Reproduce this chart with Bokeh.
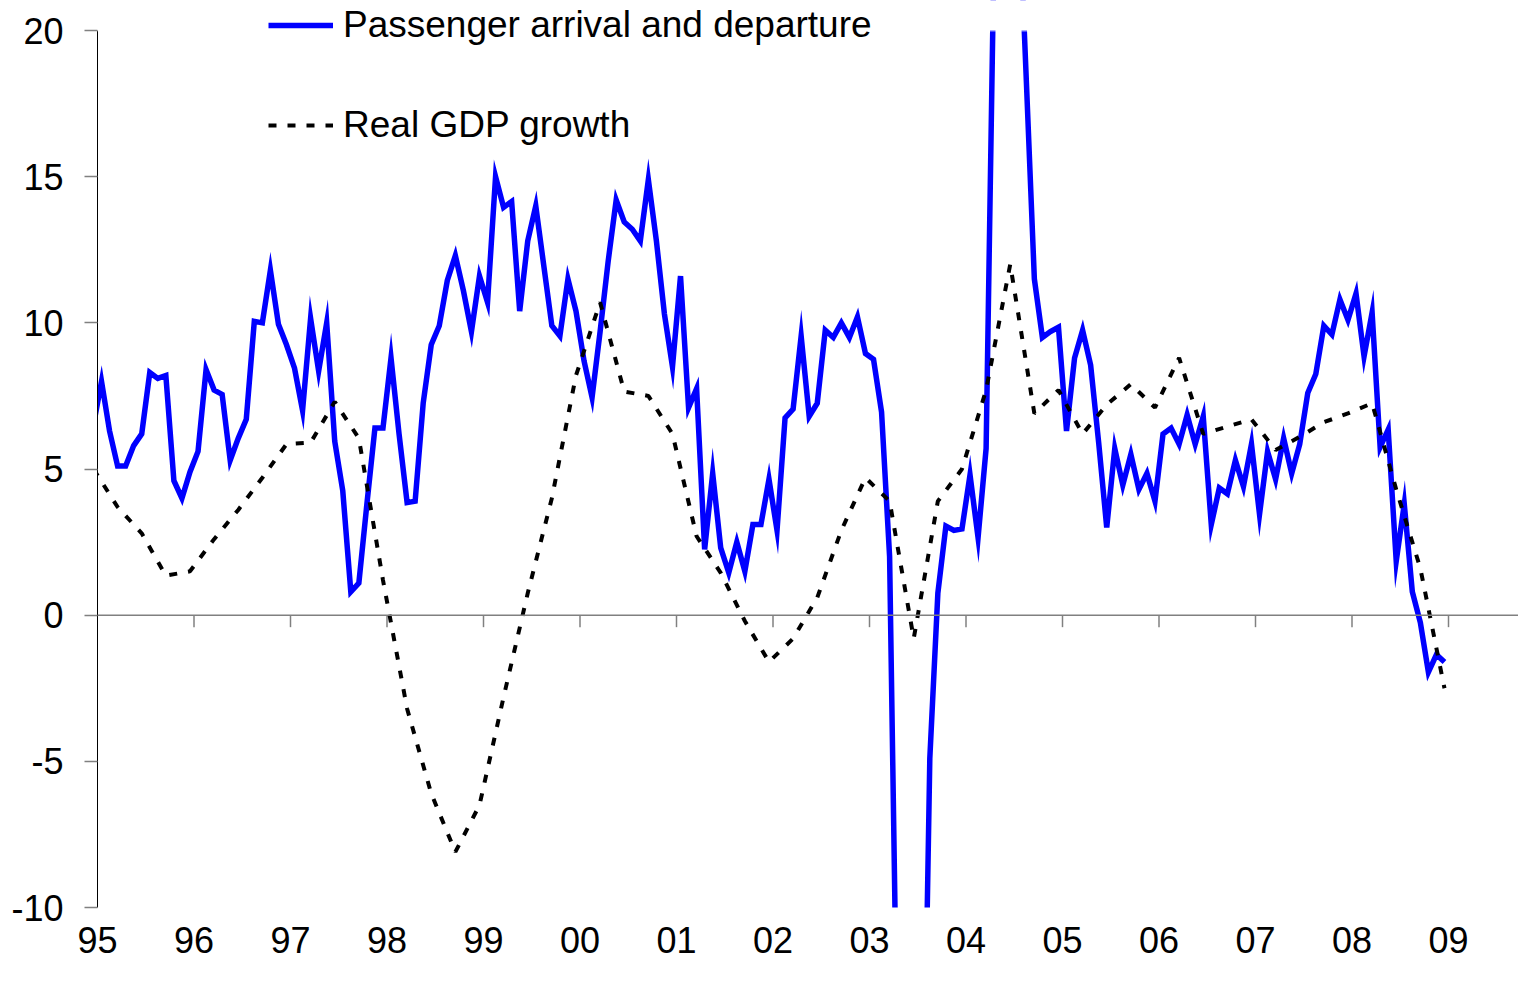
import numpy as np
from bokeh.plotting import figure
from bokeh.models import Range1d, FixedTicker, Span, Legend, LegendItem, BoxAnnotation
from bokeh.embed import file_html
from bokeh.resources import INLINE

# ---------------- data ----------------
year_ticks = list(range(1995, 2010))
year_labels = ["95", "96", "97", "98", "99", "00", "01", "02", "03", "04",
               "05", "06", "07", "08", "09"]
y_ticks = [-10, -5, 0, 5, 10, 15, 20]
y_labels = ["-10", "-5", "0", "5", "10", "15", "20"]

# Passenger arrival and departure, % yoy, monthly (Dec 1994 .. Dec 2008)
pax_1994_dec = [6.5]
pax_1995 = [8.0, 6.3, 5.1, 5.1, 5.8, 6.2, 8.3, 8.1, 8.2, 4.6, 4.0, 4.9]
pax_1996 = [5.6, 8.4, 7.7, 7.55, 5.3, 6.05, 6.7, 10.05, 10.0, 11.8, 9.95, 9.25]
pax_1997 = [8.45, 7.0, 10.15, 8.35, 10.0, 5.95, 4.25, 0.8, 1.1, 3.8, 6.4, 6.4]
pax_1998 = [8.8, 6.2, 3.85, 3.9, 7.25, 9.25, 9.9, 11.45, 12.3, 11.1, 9.7, 11.6]
pax_1999 = [10.7, 15.0, 13.95, 14.15, 10.4, 12.8, 14.0, 11.95, 9.9, 9.55, 11.5, 10.4]
pax_2000 = [8.7, 7.45, 9.7, 12.1, 14.2, 13.45, 13.2, 12.8, 14.9, 12.8, 10.3, 8.5]
pax_2001 = [11.6, 7.1, 7.75, 2.25, 4.85, 2.3, 1.45, 2.5, 1.5, 3.1, 3.1, 4.65]
pax_2002 = [2.9, 6.75, 7.05, 9.55, 6.8, 7.25, 9.75, 9.5, 10.0, 9.5, 10.2, 8.95]
pax_2003 = [8.75, 6.95, 2.0, -16.0, -45.0, -40.0, -21.0, -4.9, 0.75, 3.05, 2.9, 2.95]
pax_2004 = [4.8, 2.65, 5.7, 23.0, 70.0, 60.0, 25.0, 18.3, 11.5, 9.5, 9.7, 9.85]
pax_2005 = [6.3, 8.8, 9.75, 8.55, 5.9, 3.0, 5.7, 4.45, 5.5, 4.3, 4.85, 3.9]
pax_2006 = [6.2, 6.4, 5.85, 6.85, 5.85, 6.8, 3.1, 4.35, 4.15, 5.3, 4.4, 5.85]
pax_2007 = [3.45, 5.6, 4.65, 6.05, 4.85, 5.85, 7.6, 8.25, 9.9, 9.6, 10.8, 10.1]
pax_2008 = [11.0, 8.85, 10.35, 5.75, 6.35, 1.85, 3.8, 0.8, -0.25, -1.95, -1.35, -1.6]

# Real GDP growth, % yoy, quarterly (Q4 1994 .. Q4 2008)
gdp_1994_q4 = [5.0]
gdp_1995 = [3.7, 2.8, 1.35, 1.5]
gdp_1996 = [2.6, 3.6, 4.7, 5.85]
gdp_1997 = [5.9, 7.3, 6.05, 1.2]
gdp_1998 = [-3.2, -6.1, -8.1, -6.5]
gdp_1999 = [-2.8, 0.75, 4.0, 8.2]
gdp_2000 = [10.7, 7.65, 7.5, 6.2]
gdp_2001 = [2.7, 1.45, -0.2, -1.6]
gdp_2002 = [-0.8, 0.6, 2.9, 4.7]
gdp_2003 = [3.9, -0.8, 3.9, 5.0]
gdp_2004 = [7.7, 12.0, 6.9, 7.7]
gdp_2005 = [6.2, 7.2, 7.9, 7.1]
gdp_2006 = [8.8, 6.2, 6.45, 6.7]
gdp_2007 = [5.65, 6.1, 6.6, 6.9]
gdp_2008 = [7.25, 4.3, 1.6, -2.5]

passenger = (pax_1994_dec + pax_1995 + pax_1996 + pax_1997 + pax_1998 + pax_1999
             + pax_2000 + pax_2001 + pax_2002 + pax_2003 + pax_2004 + pax_2005
             + pax_2006 + pax_2007 + pax_2008)
gdp = (gdp_1994_q4 + gdp_1995 + gdp_1996 + gdp_1997 + gdp_1998 + gdp_1999
       + gdp_2000 + gdp_2001 + gdp_2002 + gdp_2003 + gdp_2004 + gdp_2005
       + gdp_2006 + gdp_2007 + gdp_2008)

# time positions (fractional years, mid-month), series start Dec 1994
month_index = np.arange(len(passenger)) - 1          # -1 = Dec 1994
x_pax = 1995 + (month_index + 0.5) / 12.0
quarter_month = 2 + 3 * (np.arange(len(gdp)) - 1)     # quarter-end months
x_gdp = 1995 + (quarter_month + 0.5) / 12.0

# ---------------- figure ----------------
FONT = "Liberation Sans"
FS = "36px"

W, H = 1518, 968
LEFT, BOTTOM = 97, 61
TOP_GAP = 30                      # pixels between canvas top and the value 20
Y_MIN, Y_MAX = y_ticks[0], y_ticks[-1]
PX_PER_UNIT = 877 / (Y_MAX - Y_MIN)
PX_PER_YEAR = 96.5

p = figure(width=W, height=H, output_backend="svg", toolbar_location=None,
           x_range=Range1d(1995, 1995 + (W - LEFT) / PX_PER_YEAR),
           y_range=Range1d(Y_MIN, Y_MAX + TOP_GAP / PX_PER_UNIT),
           min_border_left=LEFT, min_border_right=0, min_border_top=0,
           min_border_bottom=BOTTOM)
p.outline_line_color = None
p.xgrid.visible = False
p.ygrid.visible = False
p.background_fill_color = "white"

# y axis
p.yaxis.ticker = FixedTicker(ticks=y_ticks)
p.yaxis.bounds = (Y_MIN, Y_MAX)
p.yaxis.major_label_overrides = dict(zip(y_ticks, y_labels))
p.yaxis.axis_line_color = "black"
p.yaxis.axis_line_width = 1
p.yaxis.major_tick_line_color = "#808080"
p.yaxis.major_tick_line_width = 1.5
p.yaxis.major_tick_out = 13
p.yaxis.major_tick_in = 0
p.yaxis.minor_tick_line_color = None
p.yaxis.major_label_standoff = 21
p.yaxis.major_label_text_font = FONT
p.yaxis.major_label_text_font_size = FS
p.yaxis.major_label_text_color = "black"

# x axis (labels only, at the bottom)
p.xaxis.ticker = FixedTicker(ticks=year_ticks)
p.xaxis.major_label_overrides = dict(zip(year_ticks, year_labels))
p.xaxis.axis_line_color = None
p.xaxis.major_tick_line_color = None
p.xaxis.minor_tick_line_color = None
p.xaxis.major_tick_out = 0
p.xaxis.major_tick_in = 0
p.xaxis.major_label_standoff = 19
p.xaxis.major_label_text_font = FONT
p.xaxis.major_label_text_font_size = FS
p.xaxis.major_label_text_color = "black"

# zero line with downward year ticks
p.add_layout(Span(location=0, dimension="width", line_color="#808080", line_width=1.5))
p.ray(x=year_ticks[1:], y=[0] * (len(year_ticks) - 1), length=12, length_units="screen",
      angle=-np.pi / 2, line_color="#808080", line_width=1.5)

# series
r_pax = p.line(x_pax, passenger, line_color="#0000FF", line_width=5.5, line_join="miter")
r_gdp = p.line(x_gdp, gdp, line_color="black", line_width=4, line_dash="8 11")

# values above the axis maximum are cut off, as in the original plot area
p.add_layout(BoxAnnotation(bottom=Y_MAX, top=Y_MAX + (Y_MAX - Y_MIN),
                           fill_color="white", fill_alpha=1.0,
                           line_color="white", line_width=3, level="overlay"))

legend = Legend(items=[LegendItem(label="Passenger arrival and departure", renderers=[r_pax]),
                       LegendItem(label="Real GDP growth", renderers=[r_gdp])],
                location=(171, 761), orientation="vertical",
                glyph_width=65, glyph_height=40, label_height=40, label_standoff=10,
                spacing=58, padding=0, margin=0,
                border_line_color=None, background_fill_alpha=0,
                label_text_font=FONT, label_text_font_size="37px", label_text_color="black",
                level="overlay")
p.add_layout(legend)

open("out.html", "w").write(file_html(p, INLINE))
